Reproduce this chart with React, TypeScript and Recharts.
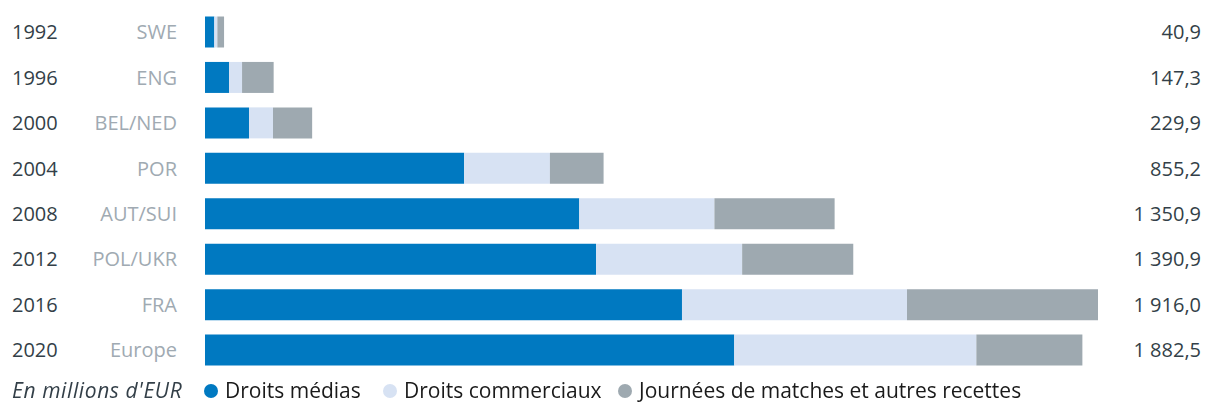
import { Bar, BarChart, XAxis, YAxis } from "recharts";

const years = ["1992", "1996", "2000", "2004", "2008", "2012", "2016", "2020"];
const hosts = ["SWE", "ENG", "BEL/NED", "POR", "AUT/SUI", "POL/UKR", "FRA", "Europe"];
const media = [20, 51.5, 94.4, 556, 803, 839, 1023.4, 1135.5];
const commercial = [6.5, 28, 51.5, 184, 290, 313.5, 482.8, 519.5];
const matchday = [14.4, 67.8, 84, 115.2, 257.9, 238.4, 409.8, 227.5];
const totals = ["40,9", "147,3", "229,9", "855,2", "1 350,9", "1 390,9", "1 916,0", "1 882,5"];

const BLUE = "#0079c1";
const LIGHT = "#d7e2f3";
const GREY = "#9ea9b0";
const FONT = "'Open Sans', 'Noto Sans', sans-serif";

const data = years.map((y, i) => ({
  year: y,
  media: media[i],
  commercial: commercial[i],
  matchday: matchday[i],
}));

function RowTick({ y, payload }: any) {
  const i = years.indexOf(payload.value);
  return (
    <g fontFamily={FONT} fontSize={20}>
      <text x={12} y={y + 7} fill="#333f48">{payload.value}</text>
      <text x={177} y={y + 7} fill="#a0aab2" textAnchor="end">{hosts[i]}</text>
      <text x={1201} y={y + 7} fill="#333f48" textAnchor="end">{totals[i]}</text>
    </g>
  );
}

// dot centre x, text start x
const legendItems = [
  { label: "Droits médias", color: BLUE, dot: 211, text: 225 },
  { label: "Droits commerciaux", color: LIGHT, dot: 390, text: 404 },
  { label: "Journées de matches et autres recettes", color: GREY, dot: 625, text: 639 },
];

export default function App() {
  return (
    <div style={{ position: "fixed", left: 0, top: 0, width: 1205, height: 402, background: "#fff" }}>
      <BarChart
        width={1205}
        height={402}
        data={data}
        layout="vertical"
        margin={{ top: 9.5, right: 107, bottom: 29, left: 0 }}
        barSize={31}
      >
        <XAxis type="number" domain={[0, 1916]} hide />
        <YAxis
          type="category"
          dataKey="year"
          width={205}
          axisLine={false}
          tickLine={false}
          tick={<RowTick />}
          interval={0}
        />
        <Bar dataKey="media" stackId="a" fill={BLUE} isAnimationActive={false} />
        <Bar dataKey="commercial" stackId="a" fill={LIGHT} isAnimationActive={false} />
        <Bar dataKey="matchday" stackId="a" fill={GREY} isAnimationActive={false} />
      </BarChart>
      <div style={{ position: "absolute", left: 0, top: 378, width: 1205, height: 24, fontFamily: FONT, fontSize: 21, lineHeight: "24px", whiteSpace: "nowrap" }}>
        <span style={{ position: "absolute", left: 12, top: 0, fontStyle: "italic", color: "#333f48", letterSpacing: 0.6 }}>
          En millions d'EUR
        </span>
        {legendItems.map((it) => (
          <span key={it.label}>
            <span
              style={{
                position: "absolute",
                left: it.dot - 7,
                top: 6,
                width: 14,
                height: 14,
                borderRadius: 7,
                background: it.color,
              }}
            />
            <span style={{ position: "absolute", left: it.text, top: 0, color: "#1a1a1a" }}>{it.label}</span>
          </span>
        ))}
      </div>
    </div>
  );
}
